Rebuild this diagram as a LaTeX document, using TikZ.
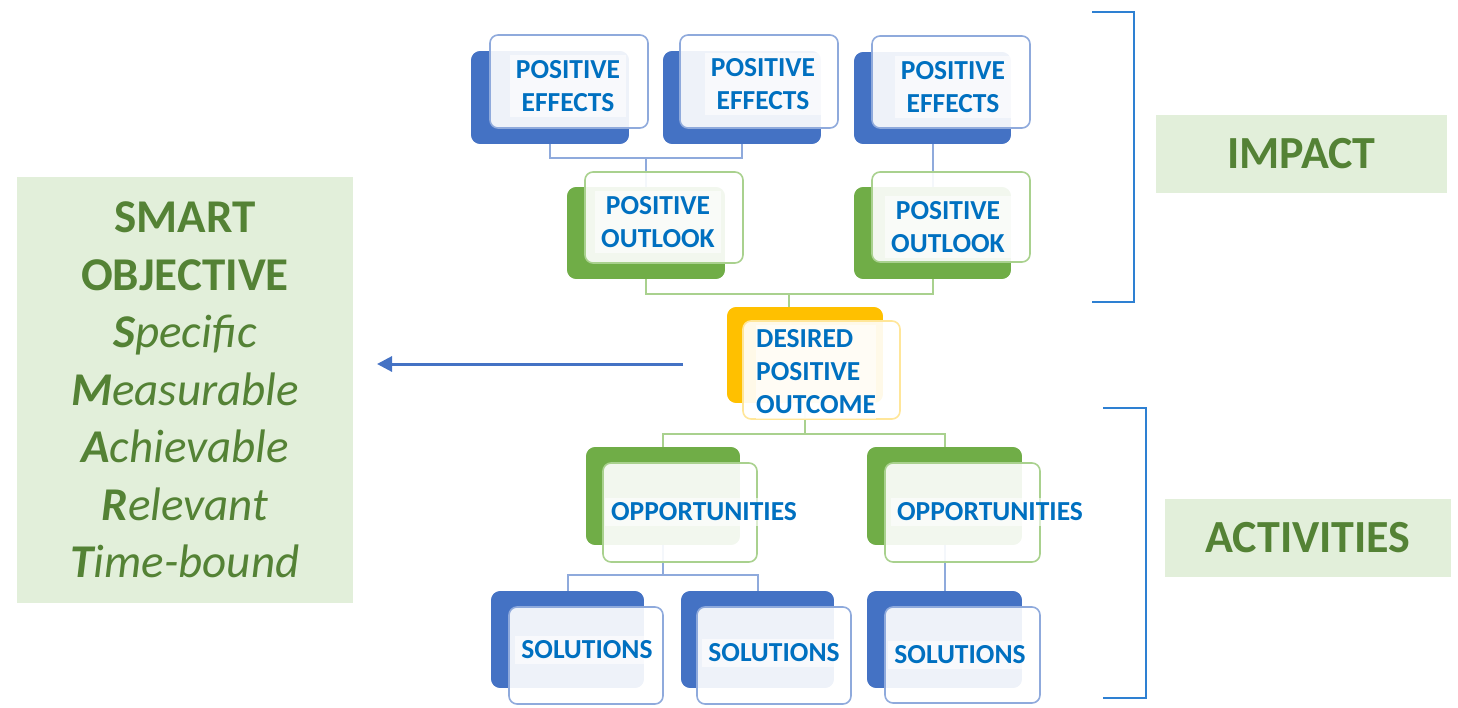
\documentclass[tikz,border=0pt]{standalone}
\usepackage{fontspec}
\setmainfont{Carlito}
\usetikzlibrary{calc,arrows.meta}
\definecolor{cblue}{HTML}{4472C4}
\definecolor{cgreen}{HTML}{70AD47}
\definecolor{corange}{HTML}{FFC000}
\definecolor{lblue}{HTML}{8FAADC}
\definecolor{lgreen}{HTML}{A9D18E}
\definecolor{lyellow}{HTML}{FFE699}
\definecolor{tblue}{HTML}{0070C0}
\definecolor{tgreen}{HTML}{548235}
\definecolor{pgreen}{HTML}{E2EFDA}
\definecolor{brk}{HTML}{2E80D2}
\tikzset{
  card/.style={rectangle, rounded corners=8pt, inner sep=0pt, line width=1.6pt},
  bb/.style={card, fill=cblue, draw=cblue},
  gb/.style={card, fill=cgreen, draw=cgreen},
  ob/.style={card, fill=corange, draw=corange},
  bf/.style={card, fill=white, fill opacity=0.91, draw=lblue},
  gf/.style={card, fill=white, fill opacity=0.91, draw=lgreen},
  of/.style={card, fill=white, fill opacity=0.91, draw=lyellow},
  lbl/.style={font=\fontsize{27.5}{33}\selectfont\bfseries, text=tblue, align=center,
    fill=white, fill opacity=0.6, text opacity=1, inner xsep=6pt, inner ysep=5pt},
  bline/.style={draw=lblue, line width=2pt},
  gline/.style={draw=lgreen, line width=2pt},
  panel/.style={rectangle, fill=pgreen, inner sep=0pt, text=tgreen},
  bracket/.style={draw=brk, line width=2pt},
}
\begin{document}
\begin{tikzpicture}[x=1pt,y=-1pt]
\useasboundingbox (0,0) rectangle (1458,707);

% ---------- back boxes (positions only) ----------
\node[bb, minimum width=156pt, minimum height=91pt] (e1b) at (550,97.5) {};
\node[bb, minimum width=156pt, minimum height=91pt] (e2b) at (742,97.5) {};
\node[bb, minimum width=155pt, minimum height=90pt] (e3b) at (932.5,98) {};
\node[gb, minimum width=156pt, minimum height=90pt] (o1b) at (646,233) {};
\node[gb, minimum width=155pt, minimum height=90pt] (o2b) at (932.5,233) {};
\node[ob, minimum width=154pt, minimum height=94pt] (db) at (805,355) {};
\node[gb, minimum width=152pt, minimum height=96pt] (p1b) at (663,496) {};
\node[gb, minimum width=153pt, minimum height=96pt] (p2b) at (944.5,496) {};
\node[bb, minimum width=151pt, minimum height=95pt] (s1b) at (567.5,639.5) {};
\node[bb, minimum width=151pt, minimum height=95pt] (s2b) at (757.5,639.5) {};
\node[bb, minimum width=153pt, minimum height=95pt] (s3b) at (944.5,639.5) {};

% ---------- connectors ----------
\coordinate (j1) at ($(e1b.south)!0.5!(e2b.south)+(0,14)$);
\draw[bline] (e1b.south) |- (j1) -| (e2b.south);
\draw[bline] (j1) -- (o1b.north);
\draw[bline] (e3b.south) -- (o2b.north);
\coordinate (j2) at ($(o1b.south)!0.5!(o2b.south)+(0,15)$);
\draw[gline] (o1b.south) |- (j2) -| (o2b.south);
\draw[gline] (j2) -- (j2 |- db.north);
\coordinate (j3) at ($(db.south)+(0,31)$);
\draw[gline] (db.south) -- (j3);
\draw[gline] (p1b.north) |- (j3) -| (p2b.north);
\coordinate (j4) at ($(p1b.south)+(0,30)$);
\draw[bline] (p1b.south) -- (j4);
\draw[bline] (s1b.north) |- (j4) -| (s2b.north);
\draw[bline] (p2b.south) -- (s3b.north);

% redraw back boxes over connectors
\node[bb, minimum width=156pt, minimum height=91pt] at (e1b) {};
\node[bb, minimum width=156pt, minimum height=91pt] at (e2b) {};
\node[bb, minimum width=155pt, minimum height=90pt] at (e3b) {};
\node[gb, minimum width=156pt, minimum height=90pt] at (o1b) {};
\node[gb, minimum width=155pt, minimum height=90pt] at (o2b) {};
\node[ob, minimum width=154pt, minimum height=94pt] at (db) {};
\node[gb, minimum width=152pt, minimum height=96pt] at (p1b) {};
\node[gb, minimum width=153pt, minimum height=96pt] at (p2b) {};
\node[bb, minimum width=151pt, minimum height=95pt] at (s1b) {};
\node[bb, minimum width=151pt, minimum height=95pt] at (s2b) {};
\node[bb, minimum width=153pt, minimum height=95pt] at (s3b) {};

% ---------- front boxes ----------
\node[bf, minimum width=158pt, minimum height=93pt] (e1f) at (569,81.5) {};
\node[bf, minimum width=158pt, minimum height=93pt] (e2f) at (759,81.5) {};
\node[bf, minimum width=158pt, minimum height=92pt] (e3f) at (951,82) {};
\node[gf, minimum width=158pt, minimum height=91pt] (o1f) at (664,217.5) {};
\node[gf, minimum width=158pt, minimum height=90pt] (o2f) at (951,217) {};
\node[of, minimum width=157pt, minimum height=98pt] (df) at (821.5,370) {};
\node[gf, minimum width=154pt, minimum height=99pt] (p1f) at (680,512.5) {};
\node[gf, minimum width=155pt, minimum height=99pt] (p2f) at (962.5,512.5) {};
\node[bf, minimum width=154pt, minimum height=97pt] (s1f) at (586,655.5) {};
\node[bf, minimum width=154pt, minimum height=97pt] (s2f) at (774,655.5) {};
\node[bf, minimum width=155pt, minimum height=96pt] (s3f) at (962.5,655) {};

% ---------- labels ----------
\node[lbl] (e1t) at (568,86) {POSITIVE\\EFFECTS};
\node[lbl] (e2t) at (763,84) {POSITIVE\\EFFECTS};
\node[lbl] (e3t) at (953,87) {POSITIVE\\EFFECTS};
\node[lbl] (o1t) at (658,222) {POSITIVE\\OUTLOOK};
\node[lbl] (o2t) at (948,227) {POSITIVE\\OUTLOOK};
\node[lbl, align=left, anchor=west, inner xsep=0pt] (dt) at (756,372) {DESIRED\\POSITIVE\\OUTCOME};
\node[lbl] (p1t) at (704,512) {OPPORTUNITIES};
\node[lbl] (p2t) at (990,512) {OPPORTUNITIES};
\node[lbl] (s1t) at (587,650) {SOLUTIONS};
\node[lbl] (s2t) at (774,653) {SOLUTIONS};
\node[lbl] (s3t) at (960,655) {SOLUTIONS};

% ---------- left panel ----------
\node[panel, minimum width=336pt, minimum height=426pt,
  font=\fontsize{47}{57.5}\selectfont, align=center] (smart) at (185,390)
  {\textbf{SMART}\\\textbf{OBJECTIVE}\\\textit{\textbf{S}pecific}\\\textit{\textbf{M}easurable}\\
   \textit{\textbf{A}chievable}\\\textit{\textbf{R}elevant}\\\textit{\textbf{T}ime-bound}};

% arrow
\coordinate (atail) at (683,364);
\coordinate (ahead) at (377,364);
\draw[draw=cblue, line width=3pt, -{Triangle[length=15pt,width=15pt]}] (atail) -- (ahead);

% ---------- right side ----------
\draw[bracket] (1092,12) -- (1134,12) -- (1134,302) -- (1092,302);
\draw[bracket] (1103,408) -- (1146,408) -- (1146,698) -- (1103,698);
\node[panel, minimum width=291pt, minimum height=78pt,
  font=\fontsize{46}{55}\selectfont\bfseries] (impact) at (1301.5,154) {IMPACT};
\node[panel, minimum width=286pt, minimum height=78pt,
  font=\fontsize{46}{55}\selectfont\bfseries] (activities) at (1308,538) {ACTIVITIES};
\end{tikzpicture}
\end{document}
